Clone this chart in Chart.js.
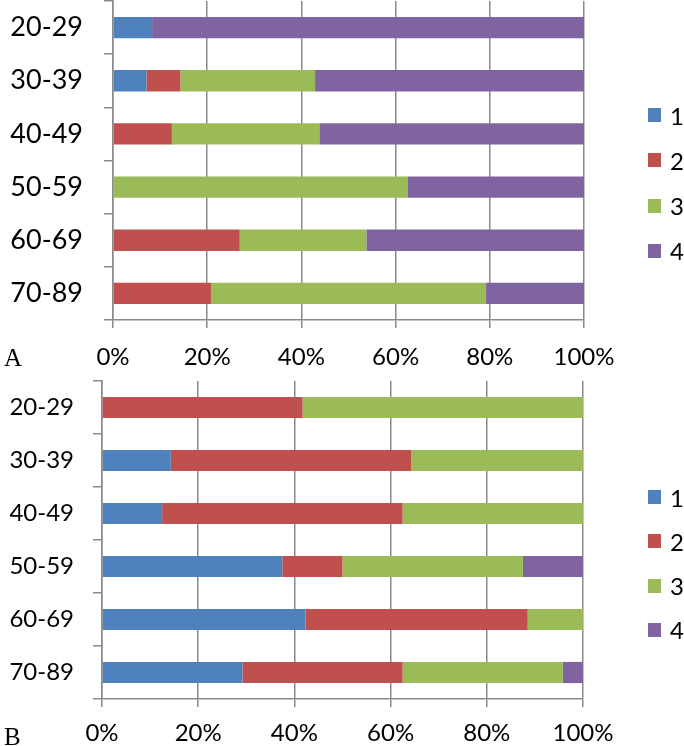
<!DOCTYPE html>
<html lang="en">
<head>
    <meta charset="UTF-8">
    <title>Stacked 100% bars</title>
    <style>
        body { margin: 0; background: #fff; }
        #wrap { position: relative; width: 684px; height: 746px; overflow: hidden; }
        canvas { position: absolute; left: 0; }
        .panel { position: absolute; left: 4px; font-family: "Liberation Serif", serif; font-size: 25px; color: #000; line-height: 1; }
        .leg { position: absolute; left: 648px; height: 30px; display: flex; align-items: center; font-family: Lato, sans-serif; font-size: 24px; color: #000; }
        .leg i { display: inline-block; width: 13px; height: 14px; margin-right: 9px; }
    </style>
</head>
<body>
    <div id="wrap">
        <canvas id="chartA" width="684" height="372" style="top:0"></canvas>
        <canvas id="chartB" width="684" height="376" style="top:370px"></canvas>
        <div class="panel" style="top:345px">A</div>
        <div class="panel" style="top:724px">B</div>
    </div>

    <script src="https://cdn.jsdelivr.net/npm/chart.js"></script>

    <script>
        // age groups
        const categories = ['20-29', '30-39', '40-49', '50-59', '60-69', '70-89']
        const seriesNames = ['1', '2', '3', '4']
        const colors = ['#4F81BD', '#C0504D', '#9BBB59', '#8064A2']
        const xTicks = [0, 20, 40, 60, 80, 100]

        // panel A (percent)
        const a1 = [8.3, 7.1, 0, 0, 0, 0]
        const a2 = [0, 7.2, 12.5, 0, 26.9, 20.8]
        const a3 = [0, 28.6, 31.3, 62.5, 26.9, 58.4]
        const a4 = [91.7, 57.1, 56.2, 37.5, 46.2, 20.8]

        // panel B (percent)
        const b1 = [0, 14.3, 12.5, 37.5, 42.3, 29.2]
        const b2 = [41.7, 50.0, 50.0, 12.5, 46.2, 33.3]
        const b3 = [58.3, 35.7, 37.5, 37.5, 11.5, 33.3]
        const b4 = [0, 0, 0, 12.5, 0, 4.2]

        const gridColor = '#8a8a8a'

        function makeChart(id, series, o) {
            const ctx = document.getElementById(id)
            return new Chart(ctx, {
                type: 'bar',
                data: {
                    labels: categories,
                    datasets: series.map((d, i) => ({
                        label: seriesNames[i],
                        data: d,
                        backgroundColor: colors[i],
                        borderWidth: 0,
                        categoryPercentage: 1,
                        barPercentage: 0.4
                    }))
                },
                options: {
                    indexAxis: 'y',
                    responsive: false,
                    animation: false,
                    layout: { padding: { left: 0, right: o.padRight, top: o.padTop, bottom: 0 } },
                    plugins: { legend: { display: false }, tooltip: { enabled: false } },
                    scales: {
                        x: {
                            stacked: true,
                            min: 0,
                            max: 100,
                            afterBuildTicks: s => { s.ticks = xTicks.map(v => ({ value: v })) },
                            afterFit: s => {
                                s.height = o.xHeight
                                s.paddingLeft = 0
                                s.paddingRight = 0
                            },
                            ticks: {
                                callback: v => v + '%',
                                color: '#000',
                                font: { family: 'Lato', size: 24 },
                                padding: o.xPad,
                                maxRotation: 0
                            },
                            grid: { color: gridColor, lineWidth: 1.5, tickLength: 8 },
                            border: { color: gridColor, width: 1.5 }
                        },
                        y: {
                            stacked: true,
                            afterFit: s => {
                                s.width = o.yWidth
                                // labels sit inside their slots, no extra room needed
                                s.paddingTop = 0
                                s.paddingBottom = 0
                            },
                            ticks: {
                                color: '#000',
                                font: { family: 'Lato', size: o.yFont },
                                padding: o.yPad
                            },
                            grid: { drawOnChartArea: false, color: gridColor, lineWidth: 1.5, tickLength: 9, offset: true },
                            border: { color: gridColor, width: 1.5 }
                        }
                    }
                }
            })
        }

        function addLegend(chart, top, step) {
            const wrap = document.getElementById('wrap')
            chart.data.datasets.forEach((ds, i) => {
                const el = document.createElement('div')
                el.className = 'leg'
                el.style.top = (top + i * step - 15) + 'px'
                el.innerHTML = '<i style="background:' + ds.backgroundColor + '"></i>' + ds.label
                wrap.appendChild(el)
            })
        }

        const chartA = makeChart('chartA', [a1, a2, a3, a4], {
            padRight: 100, padTop: 1, xHeight: 52, xPad: 15, yWidth: 113, yFont: 27, yPad: 21
        })
        const chartB = makeChart('chartB', [b1, b2, b3, b4], {
            padRight: 101, padTop: 11, xHeight: 47, xPad: 12, yWidth: 102, yFont: 24, yPad: 19
        })

        addLegend(chartA, 115, 45.3)
        addLegend(chartB, 497, 44.3)
    </script>
</body>
</html>
